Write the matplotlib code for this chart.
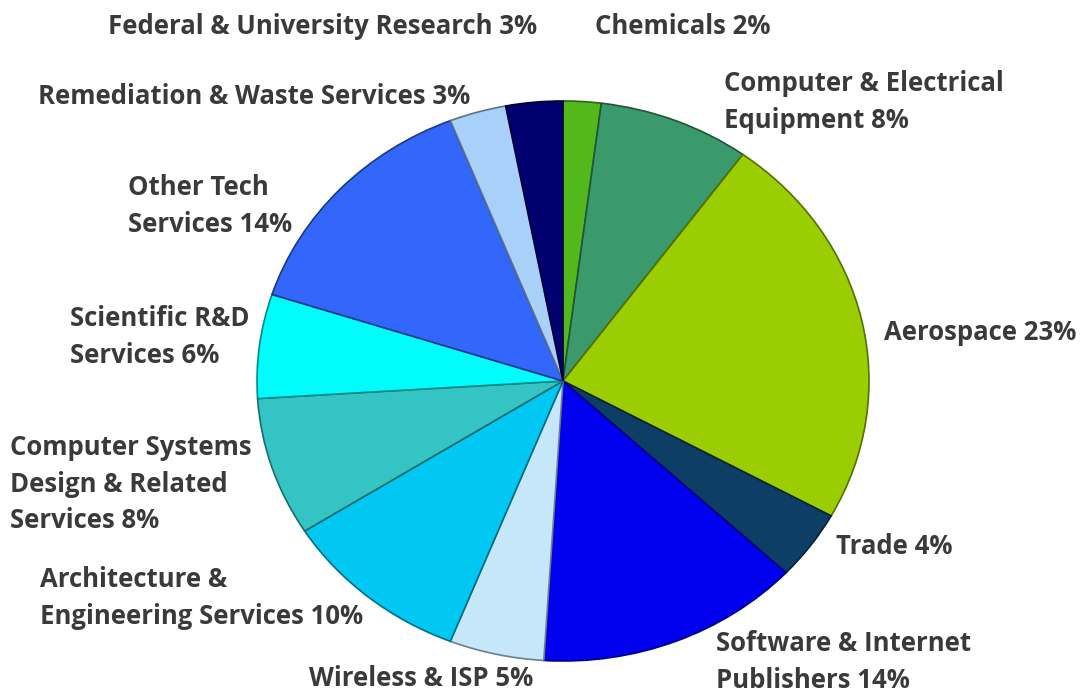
import numpy as np
import matplotlib
matplotlib.use("Agg")
import matplotlib.pyplot as plt
from matplotlib.colors import to_rgb

plt.rcParams['font.family'] = ['Open Sans', 'DejaVu Sans']

# data, clockwise from 12 o'clock
labels = ["Chemicals", "Computer & Electrical\nEquipment", "Aerospace", "Trade",
          "Software & Internet\nPublishers", "Wireless & ISP",
          "Architecture &\nEngineering Services", "Computer Systems\nDesign & Related\nServices",
          "Scientific R&D\nServices", "Other Tech\nServices",
          "Remediation & Waste Services", "Federal & University Research"]
shares = [2, 8, 23, 4, 14, 5, 10, 8, 6, 14, 3, 3]
colors = ["#52b81c", "#3a9a6c", "#9acd02", "#0c3e66", "#0000ee", "#c6e6fa",
          "#00c8f2", "#34c4c4", "#00fcfc", "#3366fa", "#a8d0f8", "#00006e"]

# label layout (pixel positions of text anchor, alignment)
label_pos = [(595, 27, 'left'), (724, 102, 'left'), (884, 332, 'left'), (836, 547, 'left'),
             (716, 662, 'left'), (533, 679, 'right'), (40, 598, 'left'), (10, 484, 'left'),
             (70, 337, 'left'), (128, 206, 'left'), (38, 96, 'left'), (108, 27, 'left')]

W, H = 1080, 693
cx, cy, rx, ry = 563, 381, 306, 280

fig = plt.figure(figsize=(W / 100, H / 100), dpi=100)
ax = fig.add_axes([0, 0, 1, 1])
ax.axis('off')

edges = [tuple(c * 0.55 for c in to_rgb(col)) for col in colors]
wedges, _ = ax.pie(shares, colors=colors, startangle=90, counterclock=False,
                   wedgeprops=dict(linewidth=1.2), radius=1.0)
for w, e in zip(wedges, edges):
    w.set_edgecolor(e)
ax.set_xlim(-cx / rx, (W - cx) / rx)
ax.set_ylim((cy - H) / ry, cy / ry)
ax.set_aspect('auto')

for lab, s, (px, py, ha) in zip(labels, shares, label_pos):
    ax.text((px - cx) / rx, (cy - py) / ry, f"{lab} {s}%", ha=ha, va='center',
            fontsize=18.5, fontweight='bold', color='#3a3a3a', linespacing=1.47)

fig.savefig("out.png", dpi=100, facecolor='white')
